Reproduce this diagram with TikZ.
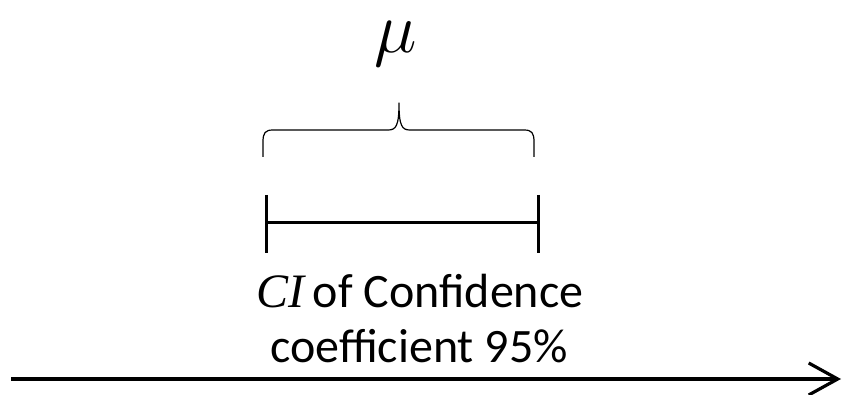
\RequirePackage{fix-cm}
\documentclass[tikz,border=0pt]{standalone}
\usepackage{fontspec}
\setmainfont{Carlito}
\newfontfamily\ciserif{Liberation Serif}
\usetikzlibrary{arrows.meta}
\tikzset{
  axis/.style={line width=3.6pt, -{Straight Barb[length=29pt,width=32pt,line width=3.2pt]}},
  bar/.style={line width=3pt},
  bracepath/.style={line width=1.2pt, line join=round},
  lbl/.style={inner sep=0pt, anchor=base, font=\fontsize{48}{58}\selectfont},
}
\begin{document}
\begin{tikzpicture}[x=1pt,y=1pt]
\useasboundingbox (0,0) rectangle (844,-395);
% axis
\coordinate (a0) at (11,-379);
\coordinate (a1) at (841,-379);
\draw[axis] (a0) -- (a1);
% interval
\coordinate (l) at (266,-223);
\coordinate (r) at (538,-223);
\draw[bar] (l) -- (r);
\draw[bar] ([yshift=28pt]l) -- ([yshift=-30pt]l);
\draw[bar] ([yshift=28pt]r) -- ([yshift=-30pt]r);
% brace
\draw[bracepath] (263,-157) -- (263,-142) .. controls (263,-133) and (265,-130) .. (273,-130)
  -- (388,-130) .. controls (396,-130) and (399,-126) .. (399,-103)
  .. controls (399,-126) and (402,-130) .. (410,-130)
  -- (524,-130) .. controls (532,-130) and (534,-133) .. (534,-142) -- (534,-157);
% mu
\node[inner sep=0pt, anchor=base, font=\fontsize{72}{72}\selectfont] (mu) at (396,-53) {$\mu$};
% labels
\node[lbl] (t1) at (420,-308) {{\ciserif\itshape CI}\hspace{0.17em}of Confidence};
\node[lbl] (t2) at (419,-363) {coefficient 95\%};
\end{tikzpicture}
\end{document}
